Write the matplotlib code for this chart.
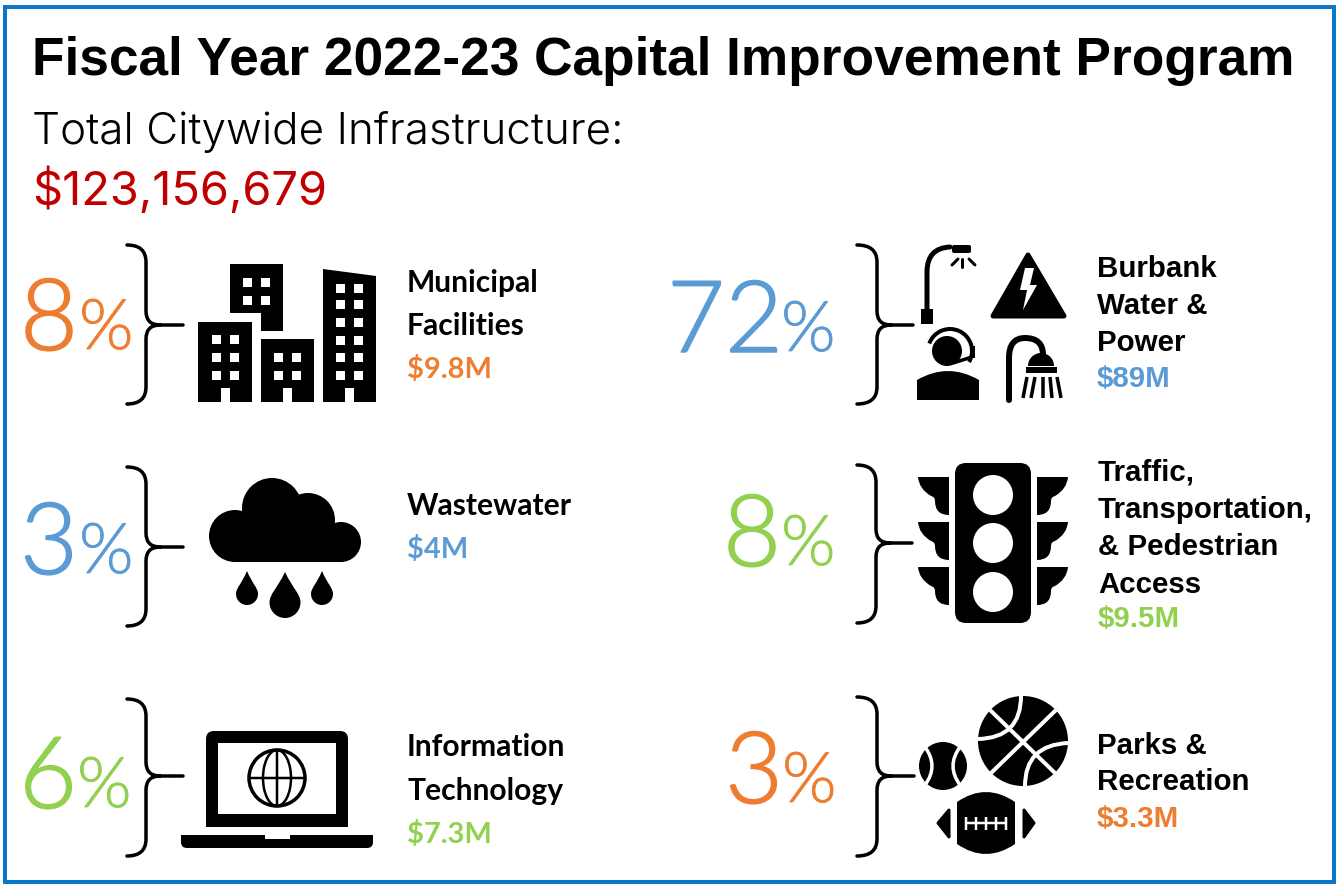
import matplotlib
matplotlib.use('Agg')
from matplotlib import pyplot as plt
from matplotlib import patheffects
from matplotlib.patches import Circle, Rectangle, Polygon, FancyBboxPatch, Wedge, PathPatch, Arc
from matplotlib.path import Path

ORANGE = '#ED7D31'
BLUE = '#5B9BD5'
GREEN = '#92D050'
RED = '#C00000'
BORDER = '#0A77C9'

title = 'Fiscal Year 2022-23 Capital Improvement Program'
subtitle = 'Total Citywide Infrastructure:'
total = '$123,156,679'

# left column then right column
shares = ['8', '3', '6', '72', '8', '3']
amounts = ['$9.8M', '$4M', '$7.3M', '$89M', '$9.5M', '$3.3M']
labels = [
    ['Municipal', 'Facilities'],
    ['Wastewater'],
    ['Information', 'Technology'],
    ['Burbank', 'Water &', 'Power'],
    ['Traffic,', 'Transportation,', '& Pedestrian', 'Access'],
    ['Parks &', 'Recreation'],
]
colors = [ORANGE, BLUE, GREEN, BLUE, GREEN, ORANGE]

fig = plt.figure(figsize=(13.39, 8.88), dpi=100)
ax = fig.add_axes([0, 0, 1, 1])
ax.set_xlim(0, 1339)
ax.set_ylim(888, 0)
ax.axis('off')


def px(n):
    return n * 0.72


def txt(x, y, s, size, color='black', family='Liberation Sans', weight='normal', extra=0):
    t = ax.text(x, y, s, fontsize=px(size), color=color, family=family, weight=weight,
                ha='left', va='baseline')
    if extra:
        # Lato light is a bit thinner than the original figures
        t.set_path_effects([patheffects.withStroke(linewidth=px(extra), foreground=color)])


def poly(pts, color='black', **kw):
    ax.add_patch(Polygon(pts, closed=True, fc=color, ec='none', **kw))


def rect(x0, y0, x1, y1, color='black'):
    ax.add_patch(Rectangle((x0, y0), x1 - x0, y1 - y0, fc=color, ec='none'))


def line(xs, ys, w=3, color='black', cap='butt'):
    ax.plot(xs, ys, color=color, lw=px(w), solid_capstyle=cap)


def stroke(verts, codes, w=4, color='black'):
    ax.add_patch(PathPatch(Path(verts, codes), fc='none', ec=color, lw=px(w), capstyle='round'))


def brace(xt, xv, xs, top, mid, bot):
    M, L, C = Path.MOVETO, Path.LINETO, Path.CURVE3
    verts = [(xt, top), (xv, top), (xv, top + 17), (xv, mid - 14), (xv, mid), (xv + 14, mid),
             (xs, mid), (xv + 14, mid), (xv, mid), (xv, mid + 14), (xv, bot - 17), (xv, bot), (xt, bot)]
    codes = [M, C, C, L, C, C, L, M, C, C, L, C, C]
    stroke(verts, codes, w=3.5)


def building(x0, x1, y0, y1, wx, wy, door=True, y0r=None):
    poly([(x0, y0), (x1, y0 if y0r is None else y0r), (x1, y1), (x0, y1)])
    for a in wx:
        for b in wy:
            rect(a, b, a + 9, b + 9, 'white')
    if door:
        rect(wx[0] + 9, y1 - 14, wx[1], y1 + 1, 'white')


def icon_buildings():
    building(198, 252, 322, 402, [212, 230], [335, 353, 371])
    poly([(230, 264), (283, 264), (283, 331), (261, 331), (261, 313), (230, 313)])
    for a in (243, 261):
        for b in (278, 296):
            rect(a, b, a + 9, b + 9, 'white')
    building(261, 314, 339, 402, [274, 292], [353, 371])
    building(323, 376, 269, 402, [336, 354], [284, 300, 318, 336, 353, 371], y0r=276)


def drop(cx, tip, bottom, r):
    M, L, C = Path.MOVETO, Path.LINETO, Path.CURVE4
    cy = bottom - r
    k = 0.55 * r
    verts = [(cx, tip), (cx + r * 0.5, cy - r * 0.9), (cx + r, cy - k), (cx + r, cy),
             (cx + r, cy + k), (cx + k, bottom), (cx, bottom),
             (cx - k, bottom), (cx - r, cy + k), (cx - r, cy),
             (cx - r, cy - k), (cx - r * 0.5, cy - r * 0.9), (cx, tip)]
    codes = [M] + [C] * 12
    ax.add_patch(PathPatch(Path(verts, codes), fc='black', ec='none'))


def icon_cloud():
    for c, r in [((235, 536), 26), ((272, 508), 30), ((308, 520), 27), ((341, 542), 20)]:
        ax.add_patch(Circle(c, r, fc='black', ec='none'))
    rect(235, 528, 341, 562)
    drop(247, 571, 605, 11)
    drop(285, 572, 618, 15.5)
    drop(322, 571, 605, 11)


def icon_laptop():
    rect(206, 739, 348, 827)
    ax.add_patch(FancyBboxPatch((206, 731), 142, 30, boxstyle='round,pad=0,rounding_size=8',
                                fc='black', ec='none'))
    rect(218, 743, 336, 814, 'white')
    ax.add_patch(FancyBboxPatch((181, 835), 192, 13, boxstyle='round,pad=0,rounding_size=6',
                                fc='black', ec='none'))
    rect(181, 835, 373, 841)
    rect(265, 835, 290, 839, 'white')
    # globe
    ax.add_patch(Circle((277, 778), 28, fc='none', ec='black', lw=px(3.5)))
    ax.add_patch(Arc((277, 778), 28, 56, fc='none', ec='black', lw=px(2.5)))
    line([277, 277], [750, 806], 2.5)
    line([249, 305], [778, 778], 2.5)


def icon_power():
    M, L, C = Path.MOVETO, Path.LINETO, Path.CURVE3
    # street light
    rect(921, 309, 933, 324)
    stroke([(927, 310), (927, 272), (927, 248), (950, 247)], [M, L, C, C], w=5)
    ax.add_patch(FancyBboxPatch((952, 245), 19, 8, boxstyle='round,pad=0,rounding_size=2',
                                fc='black', ec='none'))
    line([952, 958], [265, 259], 3, cap='round')
    line([962, 962], [259, 267], 3, cap='round')
    line([969, 975], [259, 265], 3, cap='round')
    # warning triangle
    ax.add_patch(Polygon([(1028, 255), (993, 316), (1064, 316)], closed=True, fc='black',
                         ec='black', lw=px(5), joinstyle='round'))
    poly([(1025, 268), (1034, 268), (1030, 285), (1037, 285), (1023, 310), (1027, 290), (1020, 290)], 'white')
    # operator
    ax.add_patch(Circle((947, 351), 15, fc='black', ec='none'))
    ax.add_patch(Arc((950, 351), 44, 44, theta1=200, theta2=390, ec='black', lw=px(4)))
    rect(971, 346, 975, 358)
    line([953, 972], [363, 357], 3.5)
    ax.add_patch(PathPatch(Path([(917, 400), (917, 380), (948, 362), (979, 380), (979, 400), (917, 400)],
                                [M, L, C, C, L, L]), fc='black', ec='none'))
    # shower
    stroke([(1009, 400), (1009, 358), (1009, 338), (1025, 338), (1043, 338), (1043, 355)],
           [M, L, C, C, C, C], w=6)
    ax.add_patch(Wedge((1041, 366), 13, 180, 360, fc='black', ec='none'))
    rect(1026, 367, 1057, 373)
    for x0, x1 in [(1027, 1023), (1035, 1031), (1043, 1043), (1050, 1052), (1057, 1061)]:
        line([x0, x1], [377, 398], 3.5)


def wing(y0, side):
    # side -1 is the left row of the signal hoods
    x = lambda d: 993 + side * d
    M, L, C = Path.MOVETO, Path.LINETO, Path.CURVE3
    verts = [(x(44), y0), (x(75), y0), (x(74), y0 + 12), (x(62), y0 + 19), (x(58), y0 + 20),
             (x(58), y0 + 24), (x(58), y0 + 38), (x(44), y0 + 38), (x(44), y0)]
    codes = [M, L, C, C, C, C, C, C, L]
    ax.add_patch(PathPatch(Path(verts, codes), fc='black', ec='none'))


def icon_signal():
    ax.add_patch(FancyBboxPatch((955, 463), 76, 160, boxstyle='round,pad=0,rounding_size=11',
                                fc='black', ec='none'))
    for y in (495, 543, 592):
        ax.add_patch(Circle((993, y), 20, fc='white', ec='none'))
    for y0 in (477, 522, 567):
        wing(y0, -1)
        wing(y0, 1)


def icon_balls():
    M, L, C = Path.MOVETO, Path.LINETO, Path.CURVE3
    # baseball
    ax.add_patch(Circle((943, 766), 24, fc='black', ec='none'))
    stroke([(925, 747), (939, 766), (925, 785)], [M, C, C], w=3.5, color='white')
    stroke([(960, 747), (946, 766), (960, 785)], [M, C, C], w=3.5, color='white')
    # basketball
    ax.add_patch(Circle((1023, 741), 45, fc='black', ec='none'))
    line([990, 1056], [710, 774], 4, 'white')
    line([1056, 990], [710, 774], 4, 'white')
    stroke([(1021, 696), (1021, 738), (978, 739)], [M, C, C], w=4, color='white')
    stroke([(1068, 743), (1025, 745), (1025, 786)], [M, C, C], w=4, color='white')
    # football
    ax.add_patch(PathPatch(Path([(957, 802), (986, 782), (1015, 802), (1015, 844), (986, 864), (957, 844), (957, 802)],
                                [M, C, C, L, C, C, L]), fc='black', ec='none'))
    for pts in ([(949, 810), (938, 823), (949, 837)], [(1024, 810), (1034, 823), (1024, 837)]):
        ax.add_patch(Polygon(pts, closed=True, fc='black', ec='black', lw=px(3), joinstyle='round'))
    line([965, 1007], [823, 823], 2.5, 'white')
    for x in (966, 976, 986, 996, 1006):
        line([x, x], [817, 830], 2.5, 'white')


# frame
ax.add_patch(Rectangle((5, 7), 1329, 875, fc='white', ec=BORDER, lw=px(4)))

# heading
txt(32, 75, title, 53.2, weight='bold')
txt(32, 144, subtitle, 44, family='Inter', weight=300)
txt(32, 205, total, 47, color=RED, family='Inter', weight=400)

# share figures, braces and labels for each block
share_x = [20, 20, 19, 667, 723, 725]
pct_x = [79, 79, 77, 781, 781, 782]
share_y = [350, 574, 808, 352, 566, 803]
brace_x = [(127, 146, 183)] * 3 + [(857, 877, 913), (857, 876, 912), (857, 877, 914)]
brace_y = [(245, 325, 404), (467, 547, 626), (699, 776, 856),
           (245, 325, 404), (465, 543, 623), (697, 776, 856)]
label_x = [407, 407, 407, 1097, 1098, 1097]
label_y = [[292, 335], [515], [756, 800], [277, 314, 351], [480, 518, 555, 593], [754, 790]]
amount_y = [378, 558, 843, 387, 627, 827]

for i in range(6):
    txt(share_x[i], share_y[i], shares[i], 100, color=colors[i], family='Lato', weight=300, extra=1.5)
    txt(pct_x[i], share_y[i] - 1, '%', 70, color=colors[i], family='Lato', weight=300, extra=0.8)
    xt, xv, xs = brace_x[i]
    top, mid, bot = brace_y[i]
    brace(xt, xv, xs, top, mid, bot)
    left = i < 3
    fam = 'Lato' if left else 'Liberation Sans'
    size = 30 if left else 29.5
    for s, y in zip(labels[i], label_y[i]):
        txt(label_x[i], y, s, size, family=fam, weight='bold')
    txt(label_x[i], amount_y[i], amounts[i], 29 if left else 29.5, color=colors[i], family=fam, weight='bold')

icon_buildings()
icon_cloud()
icon_laptop()
icon_power()
icon_signal()
icon_balls()

plt.savefig('out.png', dpi=100)
